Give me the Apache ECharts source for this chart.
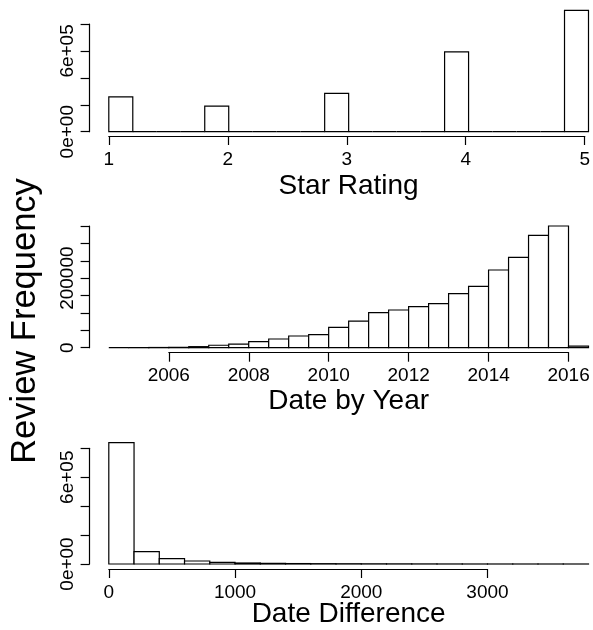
<!DOCTYPE html>
<html><head><meta charset="utf-8">
<script src="https://cdn.jsdelivr.net/npm/echarts@6/dist/echarts.min.js"></script>
<style>html,body{margin:0;padding:0;background:#fff}#c{width:593px;height:630px}</style>
</head><body><div id="c"></div>
<script>
// ---- Panel 1: Star Rating histogram (bin width 0.2) ----
const starBinStart = [1.0,1.2,1.4,1.6,1.8,2.0,2.2,2.4,2.6,2.8,3.0,3.2,3.4,3.6,3.8,4.0,4.2,4.4,4.6,4.8];
const starBinWidth = 0.2;
const starCounts = [259000,0,0,0,190000,0,0,0,0,284000,0,0,0,0,593000,0,0,0,0,901000];
const starXTicks = [1,2,3,4,5];
const starYLabels = {0:'0e+00', 600000:'6e+05'};

// ---- Panel 2: Date by Year histogram (half-year bins) ----
const yearBinStart = [2004.5,2005.0,2005.5,2006.0,2006.5,2007.0,2007.5,2008.0,2008.5,2009.0,2009.5,2010.0,
                      2010.5,2011.0,2011.5,2012.0,2012.5,2013.0,2013.5,2014.0,2014.5,2015.0,2015.5,2016.0];
const yearBinWidth = 0.5;
const yearCounts = [0,300,600,1000,3000,7000,10000,17300,25000,33600,37400,58500,
                    76700,100700,108400,118000,126600,155400,176500,223400,259900,323200,350000,4800];
const yearXTicks = [2006,2008,2010,2012,2014,2016];
const yearYLabels = {0:'0', 200000:'200000'};

// ---- Panel 3: Date Difference histogram (bin width 200) ----
const diffBinStart = [0,200,400,600,800,1000,1200,1400,1600,1800,2000,2200,2400,2600,2800,3000,3200,3400,3600];
const diffBinWidth = 200;
const diffCounts = [839000,85300,36900,20700,11500,6900,4500,3000,2200,1700,1300,1000,700,300,150,100,60,30,10];
const diffXTicks = [0,1000,2000,3000];
const diffYLabels = {0:'0e+00', 600000:'6e+05'};

const yTitle = 'Review Frequency';
const xTitles = ['Star Rating','Date by Year','Date Difference'];

const FONT = "'Liberation Sans', Arial, Helvetica, sans-serif";
const INK = '#000';

function toData(starts, width, counts){
  return starts.map((s,i)=>[s, s+width, counts[i]]);
}

function renderBar(params, api){
  const x0 = api.value(0), x1 = api.value(1), y = api.value(2);
  const p0 = api.coord([x0, y]);
  const p1 = api.coord([x1, 0]);
  return {
    type:'rect',
    shape:{x:p0[0], y:p0[1], width:p1[0]-p0[0], height:p1[1]-p0[1]},
    style:{fill:'#fff', stroke:INK, lineWidth:1.2}
  };
}

const LEFT = 108.8, WIDTH = 479.7, YAX_OFF = 19.2;
const panels = [
  {top:24,    h:107.7, ymax:800000, yint:200000, ylab:starYLabels, xmin:1,      xmax:5,      ticks:starXTicks, axY:136,   axL:LEFT,  axW:WIDTH, gap:41},
  {top:226,   h:121.7, ymax:350000, yint:50000,  ylab:yearYLabels, xmin:2004.5, xmax:2016.5, ticks:yearXTicks, axY:352.7, axL:168.8, axW:399.8, gap:40},
  {top:448.3, h:115.7, ymax:800000, yint:200000, ylab:diffYLabels, xmin:0,      xmax:3800,   ticks:diffXTicks, axY:569,   axL:LEFT,  axW:378.7, gap:36}
];
const seriesData = [
  toData(starBinStart, starBinWidth, starCounts),
  toData(yearBinStart, yearBinWidth, yearCounts),
  toData(diffBinStart, diffBinWidth, diffCounts)
];

const grid = [], xAxis = [], yAxis = [], series = [];
panels.forEach((p, k) => {
  const gb = grid.length;
  grid.push({left:LEFT, width:WIDTH, top:p.top, height:p.h, containLabel:false});
  grid.push({left:p.axL, width:p.axW, top:p.axY-1, height:1, containLabel:false});
  // bars grid axes
  xAxis.push({gridIndex:gb, type:'value', min:p.xmin, max:p.xmax,
    axisLine:{show:false}, axisTick:{show:false}, axisLabel:{show:false}, splitLine:{show:false},
    name:xTitles[k], nameLocation:'middle', nameGap:p.gap,
    nameTextStyle:{fontFamily:FONT, fontSize:28, color:INK}});
  yAxis.push({gridIndex:gb, type:'value', min:0, max:p.ymax, interval:p.yint, offset:YAX_OFF,
    axisLine:{show:true, onZero:false, lineStyle:{color:INK, width:1.2}},
    axisTick:{show:true, length:9, lineStyle:{color:INK, width:1.2}},
    axisLabel:{show:true, rotate:90, margin:12, fontFamily:FONT, fontSize:19, color:INK,
      formatter:(v)=> (p.ylab[v] !== undefined ? p.ylab[v] : '')},
    splitLine:{show:false}});
  // display x-axis grid
  const tk = p.ticks;
  xAxis.push({gridIndex:gb+1, type:'value', min:tk[0], max:tk[tk.length-1], interval:tk[1]-tk[0], position:'bottom',
    axisLine:{show:true, onZero:false, lineStyle:{color:INK, width:1.2}},
    axisTick:{show:true, length:9, lineStyle:{color:INK, width:1.2}},
    axisLabel:{show:true, margin:14, fontFamily:FONT, fontSize:19, color:INK, formatter:(v)=>String(v)},
    splitLine:{show:false}});
  yAxis.push({gridIndex:gb+1, type:'value', show:false, min:0, max:1});
  series.push({type:'custom', xAxisIndex:gb, yAxisIndex:gb, clip:false, silent:true,
    encode:{x:[0,1], y:2}, renderItem:renderBar, data:seriesData[k]});
});

const chart = echarts.init(document.getElementById('c'), null, {renderer:'canvas'});
chart.setOption({
  animation:false,
  backgroundColor:'#fff',
  grid, xAxis, yAxis, series,
  graphic:[{type:'text', x:25, y:321, rotation:Math.PI/2,
    style:{text:yTitle, fontFamily:FONT, fontSize:34.5, fill:INK, textAlign:'center', textVerticalAlign:'middle'}}]
});
</script>
</body></html>
